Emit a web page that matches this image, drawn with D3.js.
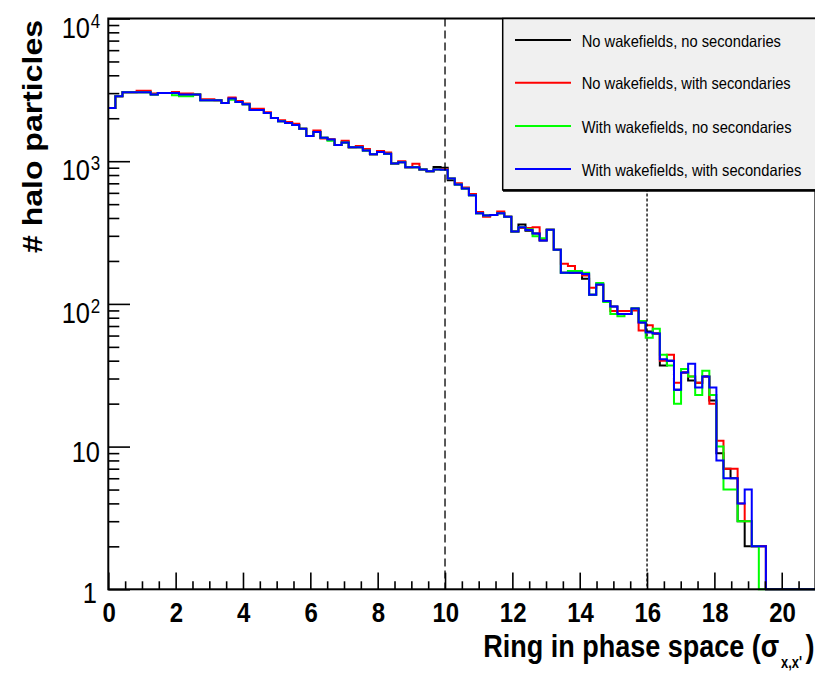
<!DOCTYPE html>
<html>
<head>
<meta charset="utf-8">
<script src="https://cdn.jsdelivr.net/npm/d3@7"></script>
<style>
  body { margin: 0; background: #fff; }
  svg { display: block; }
  text { font-family: "Liberation Sans", Arial, sans-serif; fill: #000; }
</style>
</head>
<body>
<div id="chart"></div>
<script>
// 100 bins of 0.21 sigma between 0 and 21
const binLow = 0;
const binHigh = 21;
const binWidth = 0.21;

// counts per bin
const noWakeNoSec = [
  2360, 2850, 3040, 3040, 3040, 3040, 2930, 3000, 3000, 3000,
  2930, 2930, 2930, 2670, 2670, 2670, 2560, 2750, 2600, 2510,
  2280, 2280, 2180, 2010, 1905, 1850, 1790, 1690, 1500, 1600,
  1460, 1420, 1300, 1350, 1250, 1250, 1190, 1120, 1160, 1130,
  965, 985, 908, 908, 875, 850, 910, 900, 735, 687,
  645, 578, 431, 417, 419, 431, 408, 321, 360, 325,
  312, 278, 331, 240, 165, 165, 165, 150, 116, 137,
  105, 96, 85, 85, 93, 74, 64, 62, 37, 40,
  25, 33, 29, 28, 31, 21, 9, 7, 6, 3,
  2, 2, 2, 0, 0, 0, 0, 0, 0, 0
];
const noWakeWithSec = [
  2360, 2850, 3040, 3040, 3120, 3120, 2980, 3000, 3000, 3050,
  2980, 2980, 2930, 2720, 2720, 2670, 2560, 2800, 2640, 2540,
  2330, 2330, 2200, 2010, 1940, 1880, 1830, 1690, 1500, 1640,
  1440, 1420, 1300, 1390, 1250, 1280, 1220, 1120, 1180, 1150,
  965, 1000, 908, 960, 875, 850, 875, 880, 757, 700,
  655, 590, 440, 408, 419, 445, 408, 321, 340, 340,
  345, 282, 331, 240, 191, 184, 165, 158, 130, 137,
  105, 89, 89, 89, 90, 65, 71, 62, 40, 44,
  28, 33, 31, 28, 31, 20, 11, 7, 7, 4,
  3, 2, 2, 0, 0, 0, 0, 0, 0, 0
];
const wakeNoSec = [
  2360, 2850, 3040, 3040, 3040, 3040, 2930, 3000, 3000, 2900,
  2850, 2850, 2930, 2670, 2670, 2670, 2560, 2700, 2600, 2510,
  2280, 2280, 2180, 2010, 1905, 1850, 1790, 1690, 1500, 1600,
  1460, 1390, 1300, 1350, 1250, 1250, 1190, 1120, 1160, 1130,
  965, 985, 908, 908, 875, 850, 875, 870, 757, 687,
  645, 578, 431, 417, 419, 431, 408, 321, 345, 333,
  298, 288, 331, 240, 165, 170, 170, 165, 116, 140,
  103, 85, 82, 85, 93, 76, 58, 67, 44, 37,
  20, 35, 31, 23, 34, 23, 10, 5, 5, 3,
  3, 2, 0, 0, 0, 0, 0, 0, 0, 0
];
const wakeWithSec = [
  2360, 2850, 3040, 3040, 3040, 3040, 2930, 3000, 3000, 3000,
  2930, 2930, 2930, 2670, 2670, 2670, 2560, 2750, 2600, 2510,
  2280, 2280, 2180, 2010, 1905, 1850, 1790, 1690, 1500, 1600,
  1460, 1420, 1300, 1350, 1250, 1250, 1190, 1120, 1160, 1130,
  965, 985, 908, 908, 875, 850, 875, 870, 757, 687,
  645, 578, 431, 417, 419, 431, 408, 321, 345, 330,
  312, 278, 331, 240, 165, 165, 165, 162, 116, 137,
  105, 96, 85, 85, 93, 74, 63, 62, 41, 40,
  25, 33, 38, 26, 31, 26, 8, 6, 6, 4,
  5, 2, 2, 0, 0, 0, 0, 0, 0, 0
];

const seriesNames = [
  'No wakefields, no secondaries',
  'No wakefields, with secondaries',
  'With wakefields, no secondaries',
  'With wakefields, with secondaries'
];
const seriesColors = ['#000000', '#ff0000', '#00ff00', '#0000ff'];
const xTickLabels = [0, 2, 4, 6, 8, 10, 12, 14, 16, 18, 20];
const yMajorTicks = [1, 10, 100, 1000, 10000];
const cutLines = [10, 16];

const width = 815, height = 674;
const fLeft = 108.3, fRight = 815.4, fTop = 18.5, fBottom = 589.3;
const SY = 1.15; // the picture's text is a bit stretched vertically

const svg = d3.select('#chart')
    .append('svg')
    .attr('width', width)
    .attr('height', height);

const x = d3.scaleLinear().domain([binLow, binHigh]).range([fLeft, fRight]);
const y = d3.scaleLog().domain([1, 10000]).range([fBottom, fTop]);

// histograms, drawn in legend order so blue ends on top
const series = [noWakeNoSec, noWakeWithSec, wakeNoSec, wakeWithSec];
const step = d3.line()
    .x(d => x(d[0]))
    .y(d => y(Math.max(d[1], 1)))
    .curve(d3.curveStepAfter);

series.forEach((vals, k) => {
    const pts = vals.map((v, i) => [binLow + i * binWidth, v]);
    pts.push([binHigh, vals[vals.length - 1]]);
    svg.append('path')
        .attr('d', step(pts))
        .attr('fill', 'none')
        .attr('stroke', seriesColors[k])
        .attr('stroke-width', 2);
});

// vertical cut lines at 10 and 16 sigma
svg.selectAll('.cut')
    .data(cutLines)
    .enter().append('line')
    .attr('x1', d => x(d)).attr('x2', d => x(d))
    .attr('y1', fTop).attr('y2', fBottom)
    .attr('stroke', '#000')
    .attr('stroke-width', 1.3)
    .attr('stroke-dasharray', (d, i) => i === 0 ? '8,4' : '3,2');

// ticks (pointing into the frame)
const xMajor = svg.append('g')
    .attr('transform', `translate(0,${fBottom})`)
    .call(d3.axisBottom(x).tickValues(xTickLabels).tickSize(-16.7).tickFormat(''));
const xMinor = svg.append('g')
    .attr('transform', `translate(0,${fBottom})`)
    .call(d3.axisBottom(x).tickValues(d3.range(0.5, 21, 0.5).filter(v => v % 2 !== 0)).tickSize(-8).tickFormat(''));

const yMinorVals = [];
[1, 10, 100, 1000].forEach(dec => { for (let m = 2; m <= 9; m++) yMinorVals.push(m * dec); });
const yMajor = svg.append('g')
    .attr('transform', `translate(${fLeft},0)`)
    .call(d3.axisLeft(y).tickValues(yMajorTicks).tickSize(-21.7).tickFormat(''));
const yMinor = svg.append('g')
    .attr('transform', `translate(${fLeft},0)`)
    .call(d3.axisLeft(y).tickValues(yMinorVals).tickSize(-11).tickFormat(''));

[xMajor, xMinor, yMajor, yMinor].forEach(a => {
    a.select('.domain').remove();
    a.selectAll('line').attr('stroke', '#000').attr('stroke-width', 1.6);
});

// frame
svg.append('rect')
    .attr('x', fLeft).attr('y', fTop)
    .attr('width', fRight - fLeft).attr('height', fBottom - fTop)
    .attr('fill', 'none')
    .attr('stroke', '#000')
    .attr('stroke-width', 2);

// x tick labels
svg.selectAll('.xlab')
    .data(xTickLabels)
    .enter().append('text')
    .attr('transform', d => `translate(${x(d) + 0.8},621.7) scale(1,${SY})`)
    .attr('text-anchor', 'middle')
    .attr('font-size', 24)
    .attr('font-weight', 'bold')
    .text(d => d);

// y tick labels: 1, 10, 10^2, 10^3, 10^4
yMajorTicks.forEach(v => {
    const ty = y(v);
    if (v === 1) {
        svg.append('text')
            .attr('transform', `translate(97,${ty + 14}) scale(1,${SY})`)
            .attr('text-anchor', 'end').attr('font-size', 25.5).text('1');
    } else if (v === 10) {
        svg.append('text')
            .attr('transform', `translate(100,${ty + 15}) scale(1,${SY})`)
            .attr('text-anchor', 'end').attr('font-size', 25.5).text('10');
    } else {
        svg.append('text')
            .attr('transform', `translate(90,${ty + 19}) scale(1,${SY})`)
            .attr('text-anchor', 'end').attr('font-size', 25.5).text('10');
        svg.append('text')
            .attr('transform', `translate(90.7,${ty + 9}) scale(1,${SY})`)
            .attr('font-size', 17).text(Math.round(Math.log10(v)));
    }
});

// x axis title, split so the subscript and closing bracket fit the width
svg.append('text')
    .attr('transform', `translate(483.3,656.7) scale(1,${SY})`)
    .attr('font-size', 27)
    .attr('font-weight', 'bold')
    .attr('textLength', 296)
    .attr('lengthAdjust', 'spacingAndGlyphs')
    .text('Ring in phase space (σ');
svg.append('text')
    .attr('transform', `translate(781,668) scale(1,${SY})`)
    .attr('font-size', 15)
    .attr('font-weight', 'bold')
    .attr('textLength', 21)
    .attr('lengthAdjust', 'spacingAndGlyphs')
    .text("x,x'");
svg.append('text')
    .attr('transform', `translate(805.5,656.7) scale(1,${SY})`)
    .attr('font-size', 27)
    .attr('font-weight', 'bold')
    .text(')');

svg.append('text')
    .attr('transform', 'translate(42,253) rotate(-90)')
    .attr('font-size', 28)
    .attr('font-weight', 'bold')
    .attr('textLength', 233)
    .attr('lengthAdjust', 'spacingAndGlyphs')
    .text('# halo particles');

// legend
const legend = svg.append('g');
legend.append('rect')
    .attr('x', 502.7).attr('y', fTop)
    .attr('width', 340).attr('height', 190 - fTop)
    .attr('fill', '#f0f0f0')
    .attr('stroke', '#000')
    .attr('stroke-width', 1.5);
legend.append('line')
    .attr('x1', 503).attr('x2', 830)
    .attr('y1', 190.5).attr('y2', 190.5)
    .attr('stroke', '#000').attr('stroke-width', 2.5);

const legendY = [40, 82.7, 126, 169];
const entry = legend.selectAll('.entry')
    .data(seriesNames)
    .enter().append('g');
entry.append('line')
    .attr('x1', 515).attr('x2', 571)
    .attr('y1', (d, i) => legendY[i]).attr('y2', (d, i) => legendY[i])
    .attr('stroke', (d, i) => seriesColors[i])
    .attr('stroke-width', 2);
entry.append('text')
    .attr('transform', (d, i) => `translate(581.7,${legendY[i] + 6.5}) scale(1,${SY})`)
    .attr('font-size', 14.7)
    .text(d => d);
</script>
</body>
</html>
